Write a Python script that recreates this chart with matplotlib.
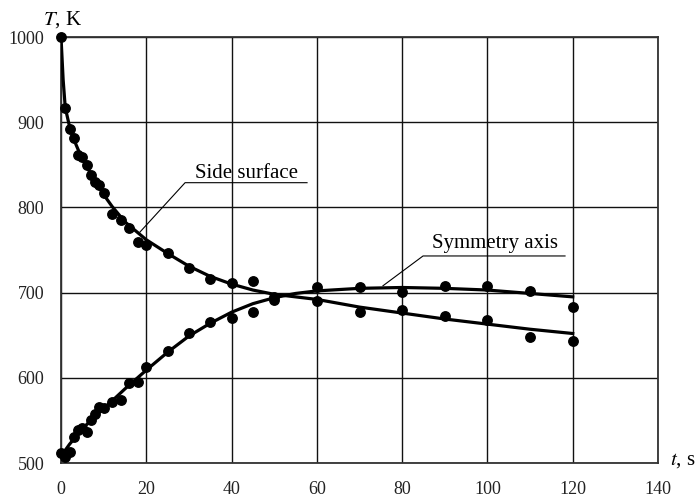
import matplotlib
matplotlib.use("Agg")
import matplotlib.pyplot as plt

# measured points
side_t = [0, 1, 2, 3, 4, 5, 6, 7, 8, 9, 10, 12, 14, 16, 18, 20, 25, 30, 35, 40, 45, 50, 60, 70, 80, 90, 100, 110, 120]
side_T = [1000, 917, 892, 881, 861, 859, 850, 838, 830, 826, 817, 792, 785, 776, 759, 756, 746, 729, 716, 711, 714, 695, 690, 677, 680, 672, 668, 648, 643]

sym_t = [0, 1, 2, 3, 4, 5, 6, 7, 8, 9, 10, 12, 14, 16, 18, 20, 25, 30, 35, 40, 45, 50, 60, 70, 80, 90, 100, 110, 120]
sym_T = [512, 507, 513, 531, 539, 541, 536, 550, 558, 566, 564, 572, 574, 594, 595, 613, 632, 653, 665, 670, 677, 691, 707, 707, 701, 708, 708, 702, 683]

# fitted curves
side_curve_t = [0, 0.5, 1, 2, 3, 4, 5, 6, 8, 10, 12, 15, 20, 25, 30, 35, 40, 45, 50, 55, 60, 70, 80, 90, 100, 110, 120]
side_curve_T = [1000, 950, 917, 895, 880, 868, 857, 848, 831, 815, 801, 783, 762, 746, 731, 719, 710, 703, 698, 695, 692, 683, 676, 669, 663, 657, 652]

sym_curve_t = [0, 2, 4, 6, 8, 10, 12, 15, 20, 25, 30, 35, 40, 45, 50, 55, 60, 70, 80, 90, 100, 110, 120]
sym_curve_T = [508, 522, 534, 545, 555, 564, 573, 587, 609, 630, 649, 664, 677, 687, 694, 699, 702, 705, 706, 705, 703, 699, 695]

x_ticks = [0, 20, 40, 60, 80, 100, 120, 140]
y_ticks = [500, 600, 700, 800, 900, 1000]

plt.rcParams['font.family'] = ['Liberation Serif', 'DejaVu Serif']
plt.rcParams['mathtext.fontset'] = 'stix'

fig = plt.figure(figsize=(6.96, 4.97), dpi=100)
ax = fig.add_axes([61/696, 34/497, (658-61)/696, (463-37)/497])

ax.set_xlim(0, 140)
ax.set_ylim(500, 1000)
ax.set_xticks(x_ticks)
ax.set_yticks(y_ticks)
ax.set_xticklabels([str(v) for v in x_ticks])
ax.set_yticklabels([str(v) for v in y_ticks])
ax.tick_params(length=0, labelsize=13, colors='#222222')
ax.tick_params(axis='x', pad=13)
ax.tick_params(axis='y', pad=12)
ax.grid(True, color='#111111', linewidth=1.0)
ax.set_axisbelow(True)
for s in ax.spines.values():
    s.set_color('#333333')
    s.set_linewidth(1.3)

ax.plot(side_curve_t, side_curve_T, color='black', linewidth=2.3, zorder=3)
ax.plot(sym_curve_t, sym_curve_T, color='black', linewidth=2.3, zorder=3)
ax.plot(side_t, side_T, 'o', color='black', markersize=6.8, zorder=4, clip_on=False)
ax.plot(sym_t, sym_T, 'o', color='black', markersize=6.8, zorder=4, clip_on=False)

# annotations
ax.plot([18.5, 29.1, 57.7], [771, 829, 829], color='black', linewidth=0.8, zorder=5)
ax.text(43.4, 834, 'Side surface', fontsize=15, ha='center', va='baseline', zorder=6)
ax.plot([75.5, 84.9, 118.2], [708, 743, 743], color='black', linewidth=0.8, zorder=5)
ax.text(101.8, 752, 'Symmetry axis', fontsize=15, ha='center', va='baseline', zorder=6)

# axis labels
fig.text(43/696, 1 - 20/497, r'$T$, K', fontsize=15, ha='left', va='center')
fig.text(670/696, 1 - 461/497, r'$t$, s', fontsize=15, ha='left', va='center')

fig.savefig('out.png', dpi=100)
